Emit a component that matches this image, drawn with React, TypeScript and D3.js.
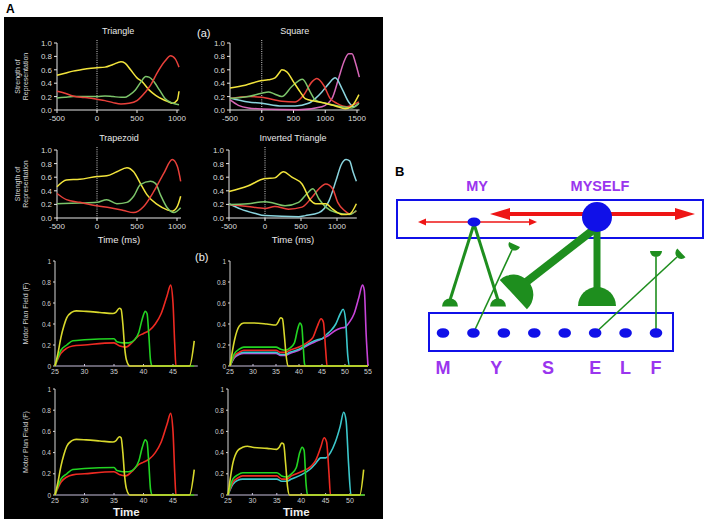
import React from 'react';
import * as d3 from 'd3';

type P = [number, number];

// ---------- Panel A (a): strength of representation ----------
const triYellow: P[] = [[-500,.52],[-400,.55],[-300,.58],[-200,.6],[-100,.62],[0,.63],[100,.64],[200,.68],[300,.72],[350,.7],[420,.6],[500,.48],[567,.42],[650,.3],[733,.22],[820,.16],[900,.12],[942,.1],[1004,.15],[1025,.28]];
const triRed: P[] = [[-500,.28],[-400,.25],[-300,.21],[-200,.19],[-100,.18],[0,.16],[100,.14],[200,.11],[300,.09],[400,.1],[500,.14],[600,.26],[670,.37],[750,.55],[850,.73],[920,.81],[980,.76],[1025,.64]];
const triGreen: P[] = [[-500,.18],[-400,.19],[-300,.2],[-200,.2],[-100,.2],[0,.2],[100,.21],[200,.2],[300,.19],[350,.19],[400,.22],[480,.3],[550,.42],[610,.5],[650,.49],[700,.44],[780,.3],[850,.17],[950,.1],[1025,.08]];

const sqYellow: P[] = [[-500,.33],[-260,.37],[0,.44],[100,.45],[210,.48],[280,.56],[316,.6],[395,.57],[500,.42],[605,.27],[684,.17],[842,.13],[1000,.1],[1158,.06],[1316,.02],[1421,.06],[1530,.23]];
const sqGreen: P[] = [[-500,.17],[-210,.2],[0,.25],[105,.27],[200,.24],[316,.2],[474,.35],[642,.46],[763,.27],[842,.15],[1000,.1],[1263,.05],[1421,.03],[1530,.1]];
const sqRed: P[] = [[-500,.17],[-210,.2],[0,.19],[316,.13],[526,.12],[658,.22],[790,.42],[868,.47],[974,.37],[1079,.17],[1184,.1],[1342,.05],[1530,.12]];
const sqCyan: P[] = [[-500,.18],[-210,.12],[0,.1],[316,.06],[526,.06],[737,.1],[842,.17],[947,.27],[1053,.39],[1158,.48],[1263,.32],[1368,.12],[1447,.05],[1530,.1]];
const sqPink: P[] = [[-500,.15],[-368,.07],[-210,.03],[0,.015],[579,.005],[947,.05],[1105,.17],[1210,.47],[1290,.71],[1368,.84],[1421,.84],[1474,.71],[1537,.49]];

const trapYellow: P[] = [[-500,.46],[-382,.56],[-214,.57],[0,.61],[122,.62],[248,.68],[374,.74],[458,.68],[542,.51],[626,.34],[752,.2],[878,.12],[941,.1],[1004,.17],[1046,.32]];
const trapRed: P[] = [[-500,.36],[-382,.27],[-214,.23],[0,.18],[164,.15],[332,.11],[458,.08],[584,.17],[710,.39],[836,.66],[941,.86],[1004,.76],[1046,.54]];
const trapGreen: P[] = [[-500,.21],[-214,.22],[0,.23],[122,.27],[248,.21],[374,.23],[458,.32],[542,.49],[668,.54],[731,.51],[794,.34],[878,.15],[962,.08],[1046,.15]];

const invYellow: P[] = [[-500,.39],[-240,.47],[0,.58],[137,.59],[255,.68],[373,.6],[514,.5],[632,.26],[703,.21],[844,.21],[939,.13],[1080,.05],[1175,.06],[1269,.21]];
const invGreen: P[] = [[-500,.2],[-240,.21],[0,.24],[113,.22],[278,.18],[467,.23],[585,.36],[665,.43],[750,.28],[844,.16],[986,.08],[1175,.05],[1269,.11]];
const invRed: P[] = [[-500,.2],[-240,.17],[0,.14],[137,.17],[325,.13],[514,.16],[656,.31],[750,.43],[844,.5],[939,.43],[1010,.23],[1104,.11],[1175,.06],[1269,.1]];
const invCyan: P[] = [[-500,.21],[-335,.13],[-146,.07],[0,.035],[467,.02],[560,.035],[750,.08],[892,.26],[986,.55],[1057,.78],[1127,.86],[1175,.84],[1222,.68],[1269,.54]];

const yTicksA = [0, 0.2, 0.4, 0.6, 0.8, 1.0];
const xTicksShort = [-500, 0, 500, 1000];
const xTicksLong = [-500, 0, 500, 1000, 1500];

// ---------- Panel A (b): motor plan field ----------
const bYellow1: P[] = [[25,0],[25.5,.12],[26,.27],[26.5,.38],[27,.46],[27.8,.51],[28.6,.525],[30.3,.52],[32.6,.51],[34.8,.5],[35.3,.51],[35.9,.55],[36.2,.54],[36.5,.4],[36.8,.18],[37.1,.06],[37.7,0],[40,0],[45,0],[47.8,0],[48.6,.24]];
const bGreen1: P[] = [[25,0],[26,.15],[27,.2],[28,.24],[30,.25],[35,.26],[35.5,.23],[36.5,.22],[37.5,.22],[38.5,.25],[39.2,.32],[39.8,.45],[40.3,.52],[40.6,.5],[40.9,.3],[41.2,.05],[41.5,0],[45,0],[48.6,0]];
const bRed1: P[] = [[25,0],[26,.12],[27,.17],[28,.19],[30,.2],[35,.22],[36,.19],[37,.18],[38,.22],[39,.28],[40,.31],[41,.34],[42,.4],[43,.5],[44,.67],[44.6,.77],[45,.6],[45.3,.2],[45.5,0],[48.6,0]];

const bYellow2: P[] = [[25,0],[26,.25],[27,.38],[28,.41],[30,.41],[33,.4],[35,.39],[35.5,.42],[36,.46],[36.4,.45],[36.8,.3],[37.2,.1],[37.6,0],[45,0],[55,0]];
const bGreen2: P[] = [[25,0],[26,.12],[27,.16],[28,.18],[30,.18],[35,.18],[36,.16],[37,.15],[38,.17],[39,.22],[39.7,.35],[40.2,.41],[40.6,.38],[40.9,.2],[41.2,.02],[41.5,0],[55,0]];
const bRed2: P[] = [[25,0],[26,.1],[27,.13],[28,.15],[35,.15],[36,.13],[37,.13],[38,.15],[40,.18],[42,.23],[43,.27],[44,.38],[44.8,.45],[45.3,.42],[45.8,.15],[46.1,0],[55,0]];
const bCyan2: P[] = [[25,0],[26,.09],[27,.12],[28,.13],[35,.13],[36,.11],[37,.11],[38,.13],[40,.16],[42,.21],[44,.25],[45,.26],[46,.3],[47,.34],[48,.4],[49,.5],[49.6,.54],[50.1,.45],[50.6,.1],[51,0],[55,0]];
const bMag2: P[] = [[25,0],[26,.08],[27,.11],[28,.12],[35,.12],[36,.1],[37,.1],[38,.12],[40,.15],[42,.2],[44,.24],[46,.28],[48,.34],[49,.36],[50,.37],[51,.42],[52,.5],[53,.65],[53.8,.77],[54.2,.72],[54.6,.3],[55,0]];

const bYellow4: P[] = [[25,0],[26,.3],[27,.42],[28,.45],[29,.46],[30,.45],[33,.44],[35,.43],[35.5,.45],[36,.49],[36.4,.48],[36.8,.3],[37.2,.08],[37.6,0],[45,0],[52,0],[52.8,.24]];
const bGreen4: P[] = [[25,0],[26,.15],[27,.19],[28,.21],[35,.21],[36,.18],[37,.17],[38,.2],[39,.26],[39.7,.4],[40.2,.45],[40.6,.42],[41,.1],[41.3,0],[53,0]];
const bRed4: P[] = [[25,0],[26,.12],[27,.16],[28,.18],[35,.18],[36,.15],[37,.15],[38,.18],[40,.22],[42,.27],[43,.33],[44,.45],[44.7,.54],[45.2,.5],[45.7,.2],[46,0],[53,0]];
const bCyan4: P[] = [[25,0],[26,.1],[27,.14],[28,.15],[35,.15],[36,.13],[37,.13],[38,.15],[40,.19],[42,.25],[43,.3],[44,.35],[45,.35],[46,.4],[47,.5],[48,.65],[48.7,.78],[49.2,.7],[49.7,.3],[50.2,0],[53,0]];

const yTicksB = [0, 0.2, 0.4, 0.6, 0.8, 1];
const xTicksB1 = [25, 30, 35, 40, 45];
const xTicksB2 = [25, 30, 35, 40, 45, 50, 55];
const xTicksB4 = [25, 30, 35, 40, 45, 50];

// ---------- Panel B: diagram ----------
const letters = ['M', 'Y', 'S', 'E', 'L', 'F'];
const letterSlots = [0, 1.75, 3.45, 5, 6, 7];
const dotSlots = [0, 1, 2, 3, 4, 5, 6, 7];

const C = {
  yel: '#f2e43c', red: '#e8403a', grn: '#7cc46a', cyn: '#8ad4de', pnk: '#d868b8',
  byel: '#d8d82c', bgrn: '#22d422', bred: '#ee2a22', bcyn: '#3cc8cc', bmag: '#c844d8',
};

const FONT = 'Liberation Sans, Arial, sans-serif';

function Line({ pts, x, y, color, w = 1.4 }: any) {
  const gen = d3.line<P>().x(d => x(d[0])).y(d => y(d[1])).curve(d3.curveMonotoneX);
  return <path d={gen(pts) || ''} fill="none" stroke={color} strokeWidth={w} strokeLinejoin="round" />;
}

function PanelA({ title, x, y, xTicks, xEnd, series, xlabel, ylabel }: any) {
  const x0 = x.range()[0];
  const yb = y(0), yt = y(1);
  const xe = x(xEnd);
  return (
    <g fontFamily={FONT}>
      <text x={(x0 + xe) / 2} y={yt - 9} fill="#e8e8e8" fontSize={9} textAnchor="middle">{title}</text>
      <line x1={x(0)} x2={x(0)} y1={yt - 3} y2={yb + 2} stroke="#cfcfcf" strokeWidth={1} strokeDasharray="1,1.2" />
      <line x1={x0} x2={x0} y1={yt} y2={yb} stroke="#e6e6e6" strokeWidth={1} />
      {yTicksA.map(t => (
        <g key={t}>
          <line x1={x0 - 3} x2={x0} y1={y(t)} y2={y(t)} stroke="#e6e6e6" />
          <text x={x0 - 5} y={y(t) + 3} fill="#dcdcdc" fontSize={8} textAnchor="end">{d3.format('.1f')(t)}</text>
        </g>
      ))}
      <line x1={x0} x2={xe} y1={yb} y2={yb} stroke="#e6e6e6" strokeWidth={1} />
      {xTicks.map((t: number) => (
        <g key={t}>
          <line x1={x(t)} x2={x(t)} y1={yb} y2={yb + 3} stroke="#e6e6e6" />
          <text x={x(t)} y={yb + 11} fill="#dcdcdc" fontSize={8} textAnchor="middle">{t}</text>
        </g>
      ))}
      {series.map((s: any, i: number) => <Line key={i} pts={s[0]} x={x} y={y} color={s[1]} w={1.5} />)}
      {xlabel && <text x={(x0 + xe) / 2} y={yb + 25} fill="#e8e8e8" fontSize={9.5} textAnchor="middle">{xlabel}</text>}
      {ylabel && (
        <g transform={`translate(${x0 - 37},${(yb + yt) / 2}) rotate(-90)`}>
          <text x={0} y={0} fill="#d8d8d8" fontSize={7} textAnchor="middle">Strength of</text>
          <text x={0} y={7.5} fill="#d8d8d8" fontSize={7} textAnchor="middle">Representation</text>
        </g>
      )}
    </g>
  );
}

function PanelB({ x, y, xTicks, xEnd, series, xlabel, ylabel }: any) {
  const x0 = x.range()[0];
  const yb = y(0), yt = y(1);
  const xe = x(xEnd);
  return (
    <g fontFamily={FONT}>
      <line x1={x0} x2={x0} y1={yt} y2={yb} stroke="#d6d6d6" strokeWidth={1} />
      {yTicksB.map(t => (
        <g key={t}>
          <line x1={x0 - 2} x2={x0} y1={y(t)} y2={y(t)} stroke="#d6d6d6" />
          <text x={x0 - 4} y={y(t) + 2.5} fill="#d0d0d0" fontSize={6.5} textAnchor="end">{t}</text>
        </g>
      ))}
      <line x1={x0} x2={xe} y1={yb} y2={yb} stroke="#c8c0dc" strokeWidth={1.2} />
      {xTicks.map((t: number) => (
        <g key={t}>
          <line x1={x(t)} x2={x(t)} y1={yb} y2={yb - 2} stroke="#c8c0dc" />
          <text x={x(t)} y={yb + 8} fill="#d0d0d0" fontSize={7} textAnchor="middle">{t}</text>
        </g>
      ))}
      {series.map((s: any, i: number) => <Line key={i} pts={s[0]} x={x} y={y} color={s[1]} w={1.6} />)}
      {xlabel && <text x={(x0 + xe) / 2} y={yb + 21} fill="#eeeeee" fontSize={11.5} fontWeight="bold" textAnchor="middle">{xlabel}</text>}
      {ylabel && (
        <text transform={`translate(${x0 - 27},${(yb + yt) / 2}) rotate(-90)`} fill="#d0d0d0" fontSize={7} textAnchor="middle">Motor Plan Field (F)</text>
      )}
    </g>
  );
}

function dome(cx: number, cy: number, r: number, angleDeg: number, color: string, key: string) {
  // semicircle: apex at (cx,cy) pointing against direction; flat base further along direction
  const arc = d3.arc()({ innerRadius: 0, outerRadius: r, startAngle: -Math.PI / 2, endAngle: Math.PI / 2 } as any) || '';
  // arc drawn with flat side on y=0 and dome upward (negative y); translate so apex at origin
  return (
    <path key={key} d={arc} fill={color}
      transform={`translate(${cx},${cy}) rotate(${angleDeg}) translate(0,${r})`} />
  );
}

function Diagram() {
  const blue = '#1010e8', red = '#ee1515', green = '#1e8e1e', purple = '#9a35ee';
  const slot = d3.scaleLinear().domain([0, 7]).range([443, 656]);
  const dotY = 333;
  const small = { x: 474, y: 222 };
  const big = { x: 597, y: 217 };
  const arrowHead = (tipX: number, y: number, dir: number, len: number, hw: number) =>
    `M${tipX},${y} L${tipX - dir * len},${y - hw} L${tipX - dir * len},${y + hw} Z`;
  const ang = (x1: number, y1: number, x2: number, y2: number) => (Math.atan2(y2 - y1, x2 - x1) * 180) / Math.PI - 90;
  // thin green endpoints
  const thin = [
    { from: [slot(1), dotY], to: [512, 250] },
    { from: [slot(5), dotY], to: [677, 257] },
    { from: [slot(7), dotY], to: [slot(7), 257] },
  ];
  return (
    <g fontFamily={FONT}>
      <text x={395} y={176} fontSize={13} fontWeight="bold" fill="#000">B</text>
      <text x={477} y={191} fontSize={14.5} fontWeight="bold" fill={purple} textAnchor="middle">MY</text>
      <text x={600} y={191} fontSize={14.5} fontWeight="bold" fill={purple} textAnchor="middle">MYSELF</text>
      <rect x={397} y={200} width={306} height={38} fill="none" stroke={blue} strokeWidth={2} />
      <rect x={429} y={313} width={244} height={38} fill="none" stroke={blue} strokeWidth={2} />
      {/* thin red arrow */}
      <line x1={423} x2={532} y1={222} y2={222} stroke={red} strokeWidth={1.4} />
      <path d={arrowHead(418, 222, -1, 8, 3.5)} fill={red} />
      <path d={arrowHead(537, 222, 1, 8, 3.5)} fill={red} />
      {/* thick red arrow */}
      <line x1={505} x2={680} y1={214} y2={214} stroke={red} strokeWidth={4} />
      <path d={arrowHead(490, 214, -1, 20, 6)} fill={red} />
      <path d={arrowHead(695, 214, 1, 20, 6)} fill={red} />
      {/* green legs from MY */}
      <line x1={small.x} y1={small.y + 2} x2={450} y2={300} stroke={green} strokeWidth={3} />
      <line x1={small.x} y1={small.y + 2} x2={498} y2={300} stroke={green} strokeWidth={3} />
      {dome(450, 298.5, 8, 0, green, 'f1')}
      {dome(498, 298.5, 8, 0, green, 'f2')}
      {/* green from MYSELF */}
      <line x1={big.x} y1={big.y + 10} x2={525} y2={283} stroke={green} strokeWidth={8} />
      {dome(528, 281, 20, ang(big.x, big.y, 528, 281), green, 'f3')}
      <line x1={big.x} y1={big.y + 10} x2={big.x} y2={290} stroke={green} strokeWidth={7} />
      {dome(big.x, 287, 19, 0, green, 'f4')}
      {/* thin green lines from word layer */}
      {thin.map((t, i) => (
        <g key={i}>
          <line x1={t.from[0]} y1={t.from[1]} x2={t.to[0]} y2={t.to[1]} stroke={green} strokeWidth={1.6} />
          {dome(t.to[0], t.to[1], 6, ang(t.from[0], t.from[1], t.to[0], t.to[1]), green, 'd' + i)}
        </g>
      ))}
      <ellipse cx={small.x} cy={small.y} rx={6.5} ry={4.5} fill={blue} />
      <circle cx={big.x} cy={big.y} r={15} fill={blue} />
      {dotSlots.map(s => <ellipse key={s} cx={slot(s)} cy={dotY} rx={6.3} ry={4.8} fill={blue} />)}
      {letters.map((l, i) => (
        <text key={l} x={slot(letterSlots[i])} y={374} fontSize={18} fontWeight="bold" fill={purple} textAnchor="middle">{l}</text>
      ))}
    </g>
  );
}

export default function App() {
  const yA1 = d3.scaleLinear().domain([0, 1]).range([110, 43]);
  const yA2 = d3.scaleLinear().domain([0, 1]).range([218, 150]);
  const xTri = d3.scaleLinear().domain([-500, 1000]).range([57, 177]);
  const xSq = d3.scaleLinear().domain([-500, 1500]).range([230, 357]);
  const xTrap = d3.scaleLinear().domain([-500, 1000]).range([57, 177]);
  const xInv = d3.scaleLinear().domain([-500, 1000]).range([229, 337]);

  const yB1 = d3.scaleLinear().domain([0, 1]).range([366, 261]);
  const yB2 = d3.scaleLinear().domain([0, 1]).range([495, 389]);
  const xB1 = d3.scaleLinear().domain([25, 45]).range([55, 173]);
  const xB2 = d3.scaleLinear().domain([25, 55]).range([230, 368]);
  const xB3 = d3.scaleLinear().domain([25, 45]).range([55, 173]);
  const xB4 = d3.scaleLinear().domain([25, 50]).range([228, 350]);

  return (
    <svg width={708} height={525} style={{ position: 'absolute', left: 0, top: 0, background: '#fff' }}>
      <rect x={0} y={0} width={708} height={525} fill="#fff" />
      <text x={6} y={13} fontFamily={FONT} fontSize={12} fontWeight="bold">A</text>
      <rect x={4} y={17} width={379} height={502} fill="#000" />
      <PanelA title="Triangle" x={xTri} y={yA1} xTicks={xTicksShort} xEnd={1030}
        series={[[triYellow, C.yel], [triGreen, C.grn], [triRed, C.red]]} ylabel />
      <PanelA title="Square" x={xSq} y={yA1} xTicks={xTicksLong} xEnd={1540}
        series={[[sqPink, C.pnk], [sqCyan, C.cyn], [sqRed, C.red], [sqGreen, C.grn], [sqYellow, C.yel]]} />
      <PanelA title="Trapezoid" x={xTrap} y={yA2} xTicks={xTicksShort} xEnd={1050}
        series={[[trapYellow, C.yel], [trapGreen, C.grn], [trapRed, C.red]]} xlabel="Time (ms)" ylabel />
      <PanelA title="Inverted Triangle" x={xInv} y={yA2} xTicks={xTicksShort} xEnd={1275}
        series={[[invCyan, C.cyn], [invRed, C.red], [invGreen, C.grn], [invYellow, C.yel]]} xlabel="Time (ms)" />
      <text x={197} y={37} fontFamily={FONT} fontSize={11} fill="#f0f0f0">(a)</text>
      <text x={195} y={261} fontFamily={FONT} fontSize={11} fill="#f0f0f0">(b)</text>

      <PanelB x={xB1} y={yB1} xTicks={xTicksB1} xEnd={49.2}
        series={[[bRed1, C.bred], [bGreen1, C.bgrn], [bYellow1, C.byel]]} ylabel />
      <PanelB x={xB2} y={yB1} xTicks={xTicksB2} xEnd={55}
        series={[[bMag2, C.bmag], [bCyan2, C.bcyn], [bRed2, C.bred], [bGreen2, C.bgrn], [bYellow2, C.byel]]} />
      <PanelB x={xB3} y={yB2} xTicks={xTicksB1} xEnd={49.2}
        series={[[bRed1, C.bred], [bGreen1, C.bgrn], [bYellow1, C.byel]]} xlabel="Time" ylabel />
      <PanelB x={xB4} y={yB2} xTicks={xTicksB4} xEnd={53}
        series={[[bCyan4, C.bcyn], [bRed4, C.bred], [bGreen4, C.bgrn], [bYellow4, C.byel]]} xlabel="Time" />

      <Diagram />
    </svg>
  );
}
